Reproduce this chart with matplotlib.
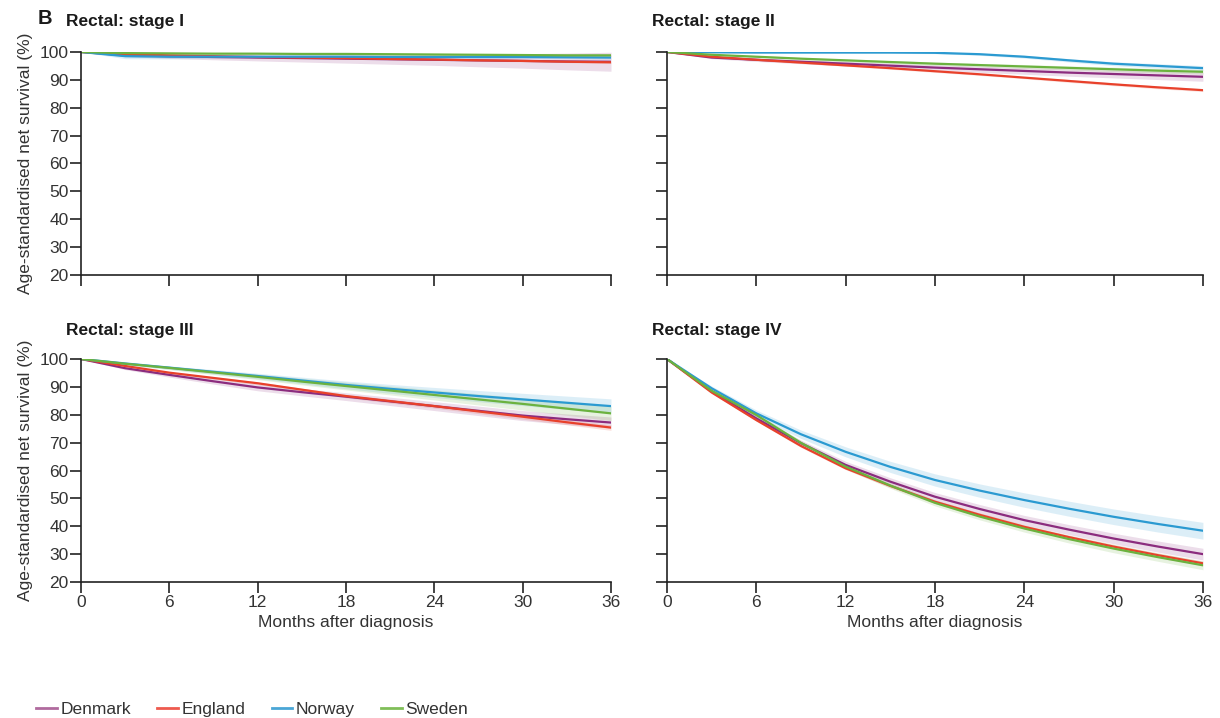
##
## === DEPENDENCIES
##

import matplotlib

matplotlib.use("Agg")
import matplotlib.pyplot as plt
import numpy

##
## === DATA
##

MONTHS = [0, 3, 6, 9, 12, 15, 18, 21, 24, 27, 30, 33, 36]
COUNTRIES = ["Denmark", "England", "Norway", "Sweden"]
COLORS = ["#8b2c7e", "#e8412b", "#2b9ad1", "#6bb23f"]
LEGEND_COLORS = ["#b06a9e", "#ee5a4e", "#4aa6d6", "#80be58"]
PANEL_TITLES = ["Rectal: stage I", "Rectal: stage II", "Rectal: stage III", "Rectal: stage IV"]
X_TICKS = [0, 6, 12, 18, 24, 30, 36]
Y_TICKS = [20, 30, 40, 50, 60, 70, 80, 90, 100]

## stage I
DENMARK_I = [100, 98.8, 98.5, 98.2, 98.0, 97.8, 97.6, 97.4, 97.2, 97.0, 96.8, 96.6, 96.5]
ENGLAND_I = [100, 99.2, 98.8, 98.5, 98.2, 98.0, 97.8, 97.5, 97.3, 97.0, 96.8, 96.5, 96.3]
NORWAY_I = [100, 98.5, 98.3, 98.3, 98.3, 98.3, 98.3, 98.2, 98.2, 98.2, 98.2, 98.1, 98.0]
SWEDEN_I = [100, 99.6, 99.5, 99.4, 99.4, 99.3, 99.3, 99.2, 99.1, 99.0, 98.9, 98.8, 98.8]
DENMARK_I_CI = [0, 0.5, 0.8, 1.0, 1.2, 1.4, 1.6, 1.8, 2.0, 2.3, 2.6, 3.0, 3.4]
ENGLAND_I_CI = [0, 0.2, 0.3, 0.3, 0.3, 0.3, 0.3, 0.3, 0.3, 0.3, 0.3, 0.3, 0.4]
NORWAY_I_CI = [0, 0.9, 0.8, 0.6, 0.5, 0.5, 0.5, 0.5, 0.5, 0.5, 0.5, 0.5, 0.6]
SWEDEN_I_CI = [0, 0.2, 0.3, 0.3, 0.3, 0.3, 0.3, 0.3, 0.3, 0.3, 0.4, 0.4, 0.4]

## stage II
DENMARK_II = [100, 98.0, 97.2, 96.5, 95.8, 95.1, 94.4, 93.8, 93.2, 92.6, 92.1, 91.6, 91.1]
ENGLAND_II = [100, 98.3, 97.2, 96.2, 95.2, 94.2, 93.1, 92.0, 90.8, 89.6, 88.4, 87.3, 86.3]
NORWAY_II = [100, 99.9, 99.8, 99.8, 99.8, 99.8, 99.7, 99.2, 98.3, 97.0, 95.8, 95.0, 94.2]
SWEDEN_II = [100, 99.0, 98.3, 97.6, 97.0, 96.4, 95.8, 95.3, 94.8, 94.3, 93.8, 93.3, 92.9]
DENMARK_II_CI = [0, 0.4, 0.6, 0.7, 0.8, 0.9, 1.0, 1.1, 1.2, 1.3, 1.4, 1.5, 1.6]
ENGLAND_II_CI = [0, 0.2, 0.3, 0.3, 0.3, 0.4, 0.4, 0.4, 0.4, 0.5, 0.5, 0.5, 0.5]
NORWAY_II_CI = [0, 0.1, 0.2, 0.2, 0.2, 0.3, 0.3, 0.4, 0.5, 0.6, 0.7, 0.8, 0.9]
SWEDEN_II_CI = [0, 0.3, 0.4, 0.4, 0.5, 0.5, 0.6, 0.6, 0.7, 0.7, 0.8, 0.8, 0.8]

## stage III
DENMARK_III = [100, 96.7, 94.3, 92.0, 89.8, 88.1, 86.5, 84.8, 83.1, 81.4, 79.7, 78.4, 77.2]
ENGLAND_III = [100, 97.5, 95.1, 93.2, 91.3, 89.0, 86.7, 84.9, 83.1, 81.2, 79.3, 77.3, 75.4]
NORWAY_III = [100, 98.4, 96.9, 95.4, 93.9, 92.3, 90.7, 89.3, 88.0, 86.7, 85.5, 84.3, 83.1]
SWEDEN_III = [100, 98.3, 96.8, 95.2, 93.6, 91.9, 90.3, 88.7, 87.1, 85.5, 83.9, 82.2, 80.5]
DENMARK_III_CI = [0, 0.5, 0.8, 1.0, 1.2, 1.3, 1.4, 1.5, 1.6, 1.7, 1.8, 1.9, 2.0]
ENGLAND_III_CI = [0, 0.2, 0.3, 0.4, 0.5, 0.5, 0.6, 0.7, 0.7, 0.8, 0.9, 0.9, 1.0]
NORWAY_III_CI = [0, 0.4, 0.6, 0.8, 1.0, 1.2, 1.4, 1.6, 1.8, 2.0, 2.2, 2.4, 2.6]
SWEDEN_III_CI = [0, 0.4, 0.6, 0.8, 1.0, 1.2, 1.4, 1.6, 1.8, 2.0, 2.2, 2.4, 2.6]

## stage IV
DENMARK_IV = [100, 88.4, 78.7, 69.8, 62.0, 56.0, 50.6, 46.2, 42.2, 38.8, 35.6, 32.7, 30.0]
ENGLAND_IV = [100, 88.0, 78.1, 68.8, 60.8, 54.5, 48.8, 44.1, 39.8, 36.1, 32.7, 29.6, 26.7]
NORWAY_IV = [100, 89.5, 80.5, 73.0, 66.7, 61.3, 56.6, 52.8, 49.4, 46.3, 43.4, 40.8, 38.4]
SWEDEN_IV = [100, 88.6, 79.9, 69.9, 61.4, 54.6, 48.4, 43.5, 39.2, 35.4, 32.0, 28.9, 26.0]
DENMARK_IV_CI = [0, 0.6, 0.9, 1.1, 1.3, 1.4, 1.5, 1.6, 1.7, 1.8, 1.9, 2.0, 2.1]
ENGLAND_IV_CI = [0, 0.3, 0.4, 0.5, 0.5, 0.6, 0.6, 0.7, 0.7, 0.7, 0.8, 0.8, 0.8]
NORWAY_IV_CI = [0, 0.8, 1.2, 1.5, 1.8, 2.0, 2.2, 2.4, 2.6, 2.7, 2.8, 2.9, 3.0]
SWEDEN_IV_CI = [0, 0.5, 0.7, 0.8, 0.9, 1.0, 1.1, 1.2, 1.3, 1.4, 1.5, 1.5, 1.6]

PANELS = [
    ([DENMARK_I, ENGLAND_I, NORWAY_I, SWEDEN_I], [DENMARK_I_CI, ENGLAND_I_CI, NORWAY_I_CI, SWEDEN_I_CI]),
    ([DENMARK_II, ENGLAND_II, NORWAY_II, SWEDEN_II], [DENMARK_II_CI, ENGLAND_II_CI, NORWAY_II_CI, SWEDEN_II_CI]),
    ([DENMARK_III, ENGLAND_III, NORWAY_III, SWEDEN_III], [DENMARK_III_CI, ENGLAND_III_CI, NORWAY_III_CI, SWEDEN_III_CI]),
    ([DENMARK_IV, ENGLAND_IV, NORWAY_IV, SWEDEN_IV], [DENMARK_IV_CI, ENGLAND_IV_CI, NORWAY_IV_CI, SWEDEN_IV_CI]),
]

## axes rectangles in figure fractions: left, bottom, width, height
AXES_RECTS = [
    (0.0664, 0.617, 0.4344, 0.3106),
    (0.5467, 0.617, 0.4393, 0.3106),
    (0.0664, 0.1894, 0.4344, 0.3106),
    (0.5467, 0.1894, 0.4393, 0.3106),
]

plt.rcParams["font.family"] = ["Liberation Sans", "DejaVu Sans"]
TEXT_COLOR = "#333333"

##
## === MAIN
##


def draw_panel(ax, series, bands, index):
    months = numpy.array(MONTHS)
    for values, ci, color in zip(series, bands, COLORS):
        values = numpy.array(values)
        ci = numpy.array(ci)
        ax.fill_between(months, values - ci, values + ci, color=color, alpha=0.16, lw=0)
    for values, color in zip(series, COLORS):
        ax.plot(months, values, color=color, lw=1.6, solid_capstyle="round")
    ax.set_xlim(0, 36)
    ax.set_ylim(20, 100)
    ax.set_xticks(X_TICKS)
    ax.set_yticks(Y_TICKS)
    for side in ("top", "right"):
        ax.spines[side].set_visible(False)
    for side in ("left", "bottom"):
        ax.spines[side].set_linewidth(1.2)
        ax.spines[side].set_color("#222222")
    ax.tick_params(direction="out", length=8, width=1.2, color="#222222", labelsize=12.5, labelcolor=TEXT_COLOR, pad=1)
    left_col = index % 2 == 0
    bottom_row = index >= 2
    if not left_col:
        ax.set_yticklabels([])
    else:
        ax.set_ylabel("Age-standardised net survival (%)", fontsize=12.5, color=TEXT_COLOR, labelpad=5)
    if not bottom_row:
        ax.set_xticklabels([])
    else:
        ax.set_xlabel("Months after diagnosis", fontsize=12.5, color=TEXT_COLOR, labelpad=4)
    title_pad = 18.5 if index < 2 else 17
    ax.set_title(PANEL_TITLES[index], loc="left", fontsize=12.5, fontweight="bold", color="#1a1a1a", x=-0.028, pad=title_pad)


def main() -> None:
    fig = plt.figure(figsize=(12.2, 7.18), dpi=100)
    for index, ((series, bands), rect) in enumerate(zip(PANELS, AXES_RECTS)):
        ax = fig.add_axes(rect)
        draw_panel(ax, series, bands, index)
    fig.text(0.031, 0.974, "B", fontsize=14.5, fontweight="bold", color="#1a1a1a", va="center")
    handles = [plt.Line2D([], [], color=color, lw=2) for color in LEGEND_COLORS]
    fig.legend(
        handles,
        COUNTRIES,
        loc="lower left",
        bbox_to_anchor=(0.017, -0.02),
        ncol=4,
        frameon=False,
        fontsize=12.5,
        handlelength=1.2,
        handletextpad=0.2,
        columnspacing=1.5,
        labelcolor=TEXT_COLOR,
    )
    fig.savefig("out.png", dpi=100)


if __name__ == "__main__":
    main()
